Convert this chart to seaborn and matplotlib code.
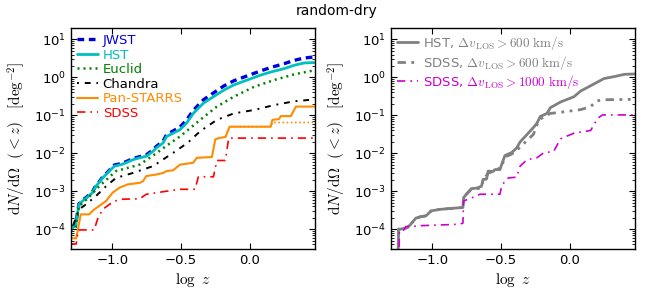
import numpy as np
import pandas as pd
import matplotlib
matplotlib.use("Agg")
import matplotlib.pyplot as plt
import matplotlib.ticker as mticker
import seaborn as sns

# ---------------- data (log z, log10 dN/dOmega) ----------------
jwst_logz = [-1.304, -1.267, -1.243, -1.218, -1.182, -1.145, -1.120, -1.096, -1.071, -1.046, -1.022, -0.985,
             -0.936, -0.899, -0.851, -0.801, -0.752, -0.704, -0.679, -0.630, -0.605, -0.507, -0.458, -0.410,
             -0.336, -0.263, -0.189, -0.115, -0.017, 0.081, 0.154, 0.252, 0.326, 0.399, 0.477]
jwst_logn = [-3.98, -3.88, -3.33, -3.24, -3.14, -3.02, -2.85, -2.75, -2.63, -2.54, -2.45, -2.31,
             -2.27, -2.22, -2.14, -2.09, -2.04, -1.91, -1.82, -1.68, -1.51, -1.31, -1.12, -0.87,
             -0.59, -0.41, -0.23, -0.09, 0.04, 0.17, 0.26, 0.36, 0.45, 0.51, 0.54]

hst_logz = [-1.304, -1.267, -1.243, -1.218, -1.182, -1.145, -1.120, -1.096, -1.071, -1.046, -1.022, -0.985,
            -0.936, -0.899, -0.851, -0.801, -0.752, -0.704, -0.679, -0.630, -0.605, -0.507, -0.458, -0.410,
            -0.336, -0.263, -0.189, -0.115, -0.017, 0.081, 0.154, 0.252, 0.326, 0.399, 0.477]
hst_logn = [-4.00, -3.90, -3.35, -3.26, -3.16, -3.04, -2.87, -2.77, -2.65, -2.56, -2.47, -2.34,
            -2.30, -2.25, -2.17, -2.12, -2.08, -1.95, -1.86, -1.73, -1.56, -1.38, -1.20, -0.95,
            -0.68, -0.51, -0.34, -0.20, -0.07, 0.06, 0.14, 0.23, 0.32, 0.38, 0.39]

euclid_logz = [-1.304, -1.267, -1.243, -1.182, -1.096, -0.973, -0.801, -0.679, -0.605, -0.507, -0.360,
               -0.238, -0.115, 0.032, 0.179, 0.326, 0.477]
euclid_logn = [-4.05, -3.95, -3.39, -3.20, -2.87, -2.47, -2.30, -2.00, -1.80, -1.56, -1.12,
               -0.77, -0.51, -0.25, -0.07, 0.08, 0.19]

chandra_logz = [-1.304, -1.243, -1.193, -1.120, -1.046, -0.973, -0.851, -0.704, -0.557, -0.449, -0.360,
                -0.238, -0.115, 0.032, 0.179, 0.326, 0.477]
chandra_logn = [-4.09, -3.48, -3.35, -3.13, -2.87, -2.65, -2.52, -2.34, -1.99, -1.72, -1.42,
                -1.12, -0.95, -0.86, -0.73, -0.63, -0.58]

ps_logz = [-1.304, -1.263, -1.230, -1.169, -1.132, -1.096, -1.046, -0.998, -0.949, -0.888, -0.801, -0.777,
           -0.752, -0.679, -0.630, -0.605, -0.557, -0.507, -0.410, -0.385, -0.274, -0.250, -0.226, -0.176,
           -0.145, 0.154, 0.167, 0.215, 0.228, 0.301, 0.338, 0.477]
ps_logn = [-4.24, -4.24, -3.61, -3.61, -3.48, -3.39, -3.26, -3.04, -2.91, -2.82, -2.78, -2.74,
           -2.60, -2.56, -2.52, -2.47, -2.45, -2.30, -2.25, -2.12, -2.10, -1.64, -1.60, -1.57,
           -1.30, -1.30, -1.12, -1.10, -1.02, -1.02, -0.77, -0.77]

ps_alt_logz = [-0.176, -0.145, 0.154, 0.167, 0.477]
ps_alt_logn = [-1.57, -1.30, -1.30, -1.19, -1.19]

sdss_logz = [-1.304, -1.263, -1.248, -1.132, -1.108, -1.071, -1.022, -0.985, -0.924, -0.801, -0.752,
             -0.605, -0.507, -0.397, -0.373, -0.263, -0.238, -0.176, -0.152, 0.477]
sdss_logn = [-4.39, -4.39, -4.02, -4.02, -3.74, -3.48, -3.35, -3.26, -3.21, -3.20, -3.08,
             -3.00, -2.95, -2.95, -2.62, -2.62, -2.19, -2.19, -1.60, -1.60]

# right panel
rhst_logz = [-1.252, -1.245, -1.230, -1.182, -1.157, -1.120, -1.083, -1.046, -1.009, -0.949, -0.851, -0.777,
             -0.772, -0.752, -0.715, -0.679, -0.642, -0.630, -0.605, -0.593, -0.557, -0.544, -0.507, -0.495,
             -0.471, -0.421, -0.385, -0.360, -0.311, -0.263, -0.238, -0.213, -0.164, -0.140, -0.066, 0.032,
             0.081, 0.154, 0.252, 0.326, 0.399, 0.477]
rhst_logn = [-5.00, -4.00, -4.00, -3.96, -3.87, -3.71, -3.67, -3.65, -3.52, -3.48, -3.45, -3.43,
             -3.17, -3.08, -2.93, -2.92, -2.87, -2.69, -2.68, -2.47, -2.48, -2.43, -2.43, -2.30,
             -2.06, -1.98, -1.86, -1.70, -1.51, -1.32, -1.21, -1.03, -0.95, -0.80, -0.65, -0.51,
             -0.36, -0.22, -0.03, 0.02, 0.08, 0.09]

rsdss_logz = [-1.252, -1.245, -1.230, -1.182, -1.157, -1.120, -1.083, -1.046, -1.009, -0.949, -0.851, -0.777,
              -0.772, -0.752, -0.715, -0.679, -0.642, -0.630, -0.593, -0.544, -0.495, -0.471, -0.421, -0.385,
              -0.360, -0.263, -0.238, -0.213, -0.140, -0.066, 0.081, 0.154, 0.190, 0.230, 0.477]
rsdss_logn = [-5.00, -4.00, -4.00, -3.96, -3.87, -3.71, -3.67, -3.65, -3.52, -3.48, -3.45, -3.43,
              -3.17, -3.08, -2.95, -2.95, -2.90, -2.72, -2.52, -2.47, -2.35, -2.10, -2.02, -1.92,
              -1.84, -1.50, -1.25, -1.10, -0.95, -0.92, -0.85, -0.77, -0.64, -0.59, -0.58]

rsdss1000_logz = [-1.243, -1.240, -1.206, -1.193, -1.145, -1.096, -0.801, -0.777, -0.772, -0.740, -0.679,
                  -0.654, -0.507, -0.495, -0.471, -0.446, -0.385, -0.360, -0.311, -0.238, -0.189, -0.115,
                  -0.066, 0.032, 0.154, 0.204, 0.240, 0.477]
rsdss1000_logn = [-5.00, -4.04, -4.02, -3.93, -3.93, -3.91, -3.87, -3.84, -3.26, -3.21, -3.13,
                  -3.08, -3.08, -2.87, -2.74, -2.65, -2.63, -2.34, -2.17, -2.12, -1.99, -1.95,
                  -1.62, -1.47, -1.40, -1.08, -0.99, -0.99]

left_series = [
    # name, logz, logn, color, lw, linestyle, label
    ("JWST", jwst_logz, jwst_logn, "#0000dd", 2.4, (0, (2.0, 1.4)), "JWST"),
    ("HST", hst_logz, hst_logn, "#00bfbf", 2.0, "-", "HST"),
    ("Euclid", euclid_logz, euclid_logn, "#008000", 1.8, (0, (0.8, 1.6)), "Euclid"),
    ("Chandra", chandra_logz, chandra_logn, "black", 1.4, (0, (1.0, 3.0, 3.0, 3.0)), "Chandra"),
    ("PS_alt", ps_alt_logz, ps_alt_logn, "#ff8c00", 1.2, (0, (1.0, 1.5)), "_nolegend_"),
    ("Pan-STARRS", ps_logz, ps_logn, "#ff8c00", 1.5, "-", "Pan-STARRS"),
    ("SDSS", sdss_logz, sdss_logn, "#ff0000", 1.2, (0, (5.0, 3.0, 1.0, 3.0)), "SDSS"),
]
right_series = [
    ("HST600", rhst_logz, rhst_logn, "#808080", 2.0, "-", r"HST, $\Delta v_{\rm LOS}>600\ {\rm km/s}$"),
    ("SDSS600", rsdss_logz, rsdss_logn, "#808080", 2.0, (0, (3.0, 2.0, 1.0, 2.0, 1.0, 2.0)),
     r"SDSS, $\Delta v_{\rm LOS}>600\ {\rm km/s}$"),
    ("SDSS1000", rsdss1000_logz, rsdss1000_logn, "#cc00cc", 1.2, (0, (5.0, 3.0, 1.0, 3.0)),
     r"SDSS, $\Delta v_{\rm LOS}>1000\ {\rm km/s}$"),
]

# ---------------- style ----------------
sns.set_theme(style="ticks")
plt.rcParams.update({
    "font.family": ["DejaVu Sans"],
    "mathtext.fontset": "cm",
    "axes.linewidth": 1.0,
    "axes.edgecolor": "black",
    "xtick.direction": "in", "ytick.direction": "in",
    "xtick.top": True, "ytick.right": True,
    "xtick.major.size": 4.5, "ytick.major.size": 4.5,
    "xtick.minor.size": 2.2, "ytick.minor.size": 2.2,
    "xtick.major.width": 0.8, "ytick.major.width": 0.8,
    "xtick.minor.width": 0.6, "ytick.minor.width": 0.6,
    "xtick.labelsize": 9.5, "ytick.labelsize": 9.5,
    "xtick.color": "black", "ytick.color": "black",
    "text.color": "black", "axes.labelcolor": "black",
})

fig = plt.figure(figsize=(6.48, 2.91), dpi=100)
ax1 = fig.add_axes([71 / 648, 1 - 249 / 291, 244 / 648, 221 / 291])
ax2 = fig.add_axes([391 / 648, 1 - 249 / 291, 244 / 648, 221 / 291])


def draw(ax, series):
    for name, lz, ln, color, lw, ls, label in series:
        df = pd.DataFrame({"logz": lz, "n": np.power(10.0, ln)})
        sns.lineplot(data=df, x="logz", y="n", ax=ax, color=color, lw=lw, linestyle=ls,
                     label=label, estimator=None, sort=False)
    ax.set_yscale("log")
    ax.set_xlim(-1.301, 0.477)
    ax.set_ylim(3e-5, 20)
    ax.yaxis.set_minor_locator(mticker.LogLocator(base=10, subs=np.arange(2, 10), numticks=20))
    ax.yaxis.set_minor_formatter(mticker.NullFormatter())
    ax.set_xticks([-1.0, -0.5, 0.0])
    ax.set_xticklabels(["\u22121.0", "\u22120.5", "0.0"])
    ax.set_xlabel(r"$\log\ z$", fontsize=11, labelpad=3)
    ax.set_ylabel(r"$\mathrm{d}N/\mathrm{d}\Omega\ \ (<z)\ \ \ [\mathrm{deg}^{-2}]$", fontsize=11, labelpad=4)
    ax.tick_params(which="both", top=True, right=True, direction="in")
    leg = ax.legend(loc="upper left", frameon=False, fontsize=9.5, handlelength=1.6,
                    handletextpad=0.35, labelspacing=0.12, borderaxespad=0.25, borderpad=0.2)
    for t, l in zip(leg.get_texts(), leg.get_lines()):
        t.set_color(l.get_color())


draw(ax1, left_series)
draw(ax2, right_series)

fig.text(0.52, 0.963, "random-dry", ha="center", va="center", fontsize=10)

fig.savefig("out.png", dpi=100)
